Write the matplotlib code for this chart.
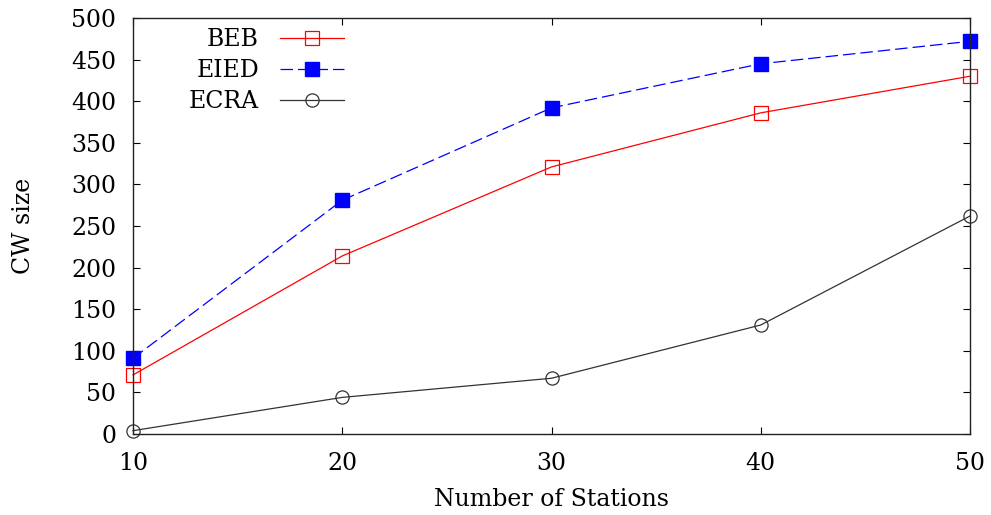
import matplotlib
matplotlib.use("Agg")
import matplotlib.pyplot as plt

stations = [10, 20, 30, 40, 50]
beb = [71, 214, 321, 386, 430]
eied = [91, 281, 392, 445, 472]
ecra = [4, 44, 67, 131, 262]

plt.rcParams['font.family'] = ['DejaVu Serif']
plt.rcParams['font.size'] = 17

fig = plt.figure(figsize=(9.91, 5.15), dpi=100)
ax = fig.add_axes([133/991, 1-434/515, (970-133)/991, (434-18)/515])

ax.plot(stations, beb, '-', color='#ff0000', lw=0.9, marker='s', ms=9.5,
        mfc='none', mec='#ff0000', mew=0.9, label='BEB', clip_on=False)
ax.plot(stations, eied, '--', color='#0000ff', lw=0.9, dashes=(10, 4), marker='s', ms=9.5,
        mfc='#0000ff', mec='#0000ff', label='EIED', clip_on=False)
ax.plot(stations, ecra, '-', color='#333333', lw=0.9, marker='o', ms=9.5,
        mfc='none', mec='#333333', mew=0.9, label='ECRA', clip_on=False)

ax.set_xlim(10, 50)
ax.set_ylim(0, 500)
ax.set_xticks(stations)
ax.set_yticks(range(0, 501, 50))
ax.tick_params(direction='in', top=True, right=True, length=5, width=0.8)
ax.tick_params(axis='x', pad=13)
ax.tick_params(axis='y', pad=12)
for s in ax.spines.values():
    s.set_linewidth(1.0)
    s.set_color('#222222')

ax.set_xlabel('Number of Stations', labelpad=9)
ax.set_ylabel('CW size', labelpad=26)

leg = ax.legend(loc='upper left', bbox_to_anchor=(0.05, 1.01), frameon=False,
                markerfirst=False, handlelength=2.7, handletextpad=0.9,
                labelspacing=0.34, borderaxespad=0.2)
for t in leg.get_texts():
    t.set_ha('right')

fig.savefig('out.png', dpi=100)
